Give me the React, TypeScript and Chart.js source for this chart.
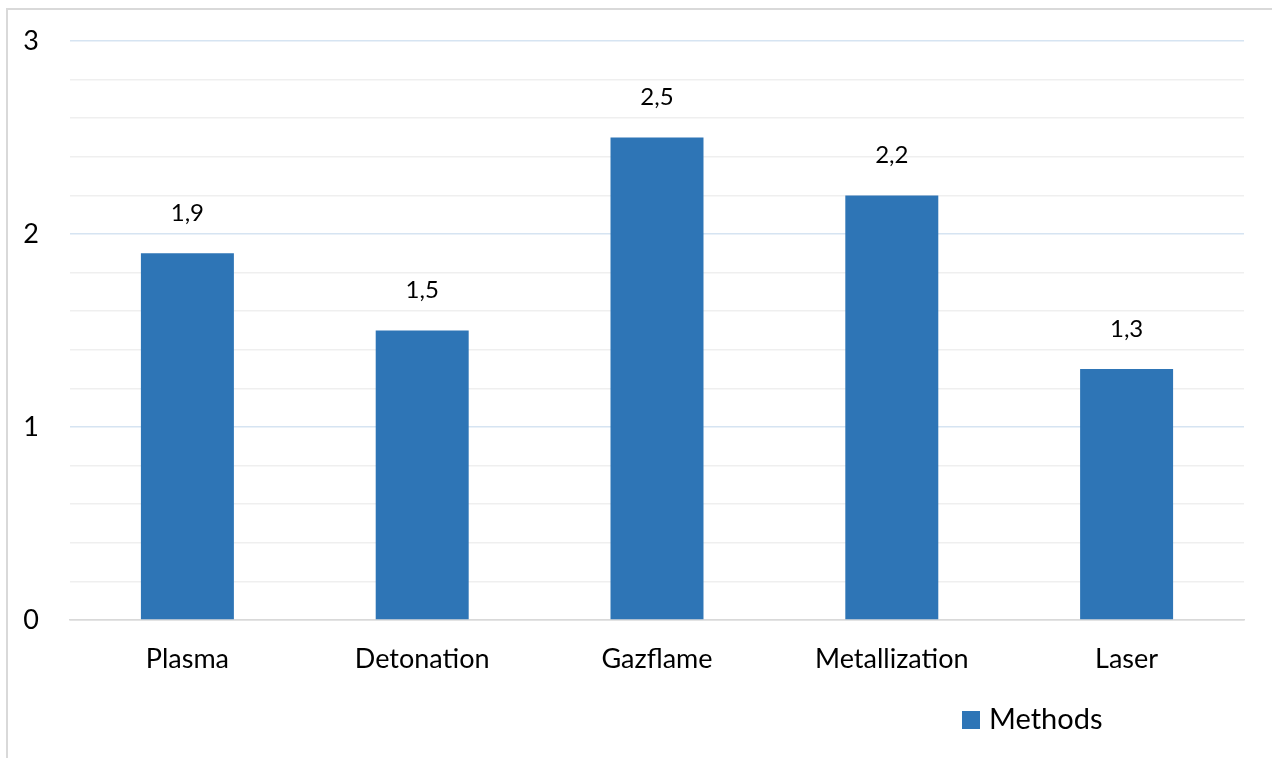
import React, { useEffect, useRef } from "react";
import { Chart, registerables } from "chart.js";

Chart.register(...registerables);

const categories = ["Plasma", "Detonation", "Gazflame", "Metallization", "Laser"];
const methodValues = [1.9, 1.5, 2.5, 2.2, 1.3];
const seriesName = "Methods";
const yTickLabels = ["0", "1", "2", "3"];

const FONT = "Lato, 'Open Sans', sans-serif";
const BAR_COLOR = "#2E75B6";

const isWhole = (v: number) => Math.abs(v - Math.round(v)) < 1e-6;

// Frame, white background, value labels and legend drawn onto the canvas
const decorations = {
  id: "decorations",
  beforeDraw(chart: any) {
    const { ctx, width, height } = chart;
    ctx.save();
    ctx.fillStyle = "#ffffff";
    ctx.fillRect(0, 0, width, height);
    ctx.strokeStyle = "#d9d9d9";
    ctx.lineWidth = 2;
    ctx.beginPath();
    ctx.moveTo(7, height + 2);
    ctx.lineTo(7, 9);
    ctx.lineTo(width + 2, 9);
    ctx.stroke();
    ctx.restore();
  },
  afterDatasetsDraw(chart: any) {
    const { ctx } = chart;
    const meta = chart.getDatasetMeta(0);
    const data = chart.data.datasets[0].data as number[];
    ctx.save();
    ctx.fillStyle = "#000000";
    ctx.font = `24px ${FONT}`;
    ctx.textAlign = "center";
    ctx.textBaseline = "middle";
    meta.data.forEach((bar: any, i: number) => {
      ctx.fillText(String(data[i]).replace(".", ","), bar.x, bar.y - 40);
    });
    // legend entry
    const ds = chart.data.datasets[0];
    ctx.fillStyle = ds.backgroundColor;
    ctx.fillRect(962, 711, 18, 18);
    ctx.fillStyle = "#000000";
    ctx.font = `29px ${FONT}`;
    ctx.textAlign = "left";
    ctx.fillText(ds.label, 989, 720);
    ctx.restore();
  },
};

export default function App() {
  const canvasRef = useRef<HTMLCanvasElement>(null);

  useEffect(() => {
    const canvas = canvasRef.current;
    if (!canvas) return;
    const chart = new Chart(canvas, {
      type: "bar",
      data: {
        labels: categories,
        datasets: [
          {
            label: seriesName,
            data: methodValues,
            backgroundColor: BAR_COLOR,
            categoryPercentage: 1,
            barPercentage: 0.396,
          },
        ],
      },
      options: {
        responsive: false,
        animation: false,
        devicePixelRatio: 1,
        layout: { padding: { top: 41, right: 28, left: 0, bottom: 0 } },
        plugins: {
          legend: { display: false },
          tooltip: { enabled: false },
        },
        scales: {
          x: {
            grid: { display: false },
            border: { display: true, color: "#d9d9d9", width: 1.5 },
            ticks: {
              color: "#000000",
              font: { family: FONT, size: 27 },
              padding: 15,
              maxRotation: 0,
            },
            afterFit: (scale: any) => {
              scale.height = 138;
            },
          },
          y: {
            min: 0,
            max: 3,
            border: { display: false },
            grid: {
              drawTicks: false,
              lineWidth: 1.5,
              color: (c: any) => {
                const v = c.tick ? c.tick.value : 0;
                if (v === 0) return "#d9d9d9";
                return isWhole(v) ? "#d6e4f2" : "#efefef";
              },
            },
            ticks: {
              stepSize: 0.2,
              autoSkip: false,
              color: "#000000",
              font: { family: FONT, size: 27 },
              padding: 31,
              callback: (v: any) => {
                const n = Number(v);
                return isWhole(n) ? yTickLabels[Math.round(n)] : "";
              },
            },
            afterFit: (scale: any) => {
              scale.width = 70;
              scale.paddingTop = 0;
              scale.paddingBottom = 0;
            },
          },
        },
      },
      plugins: [decorations],
    });
    return () => chart.destroy();
  }, []);

  return (
    <div style={{ position: "absolute", left: 0, top: 0, width: 1272, height: 758 }}>
      <canvas ref={canvasRef} width={1272} height={758} style={{ display: "block" }} />
    </div>
  );
}
